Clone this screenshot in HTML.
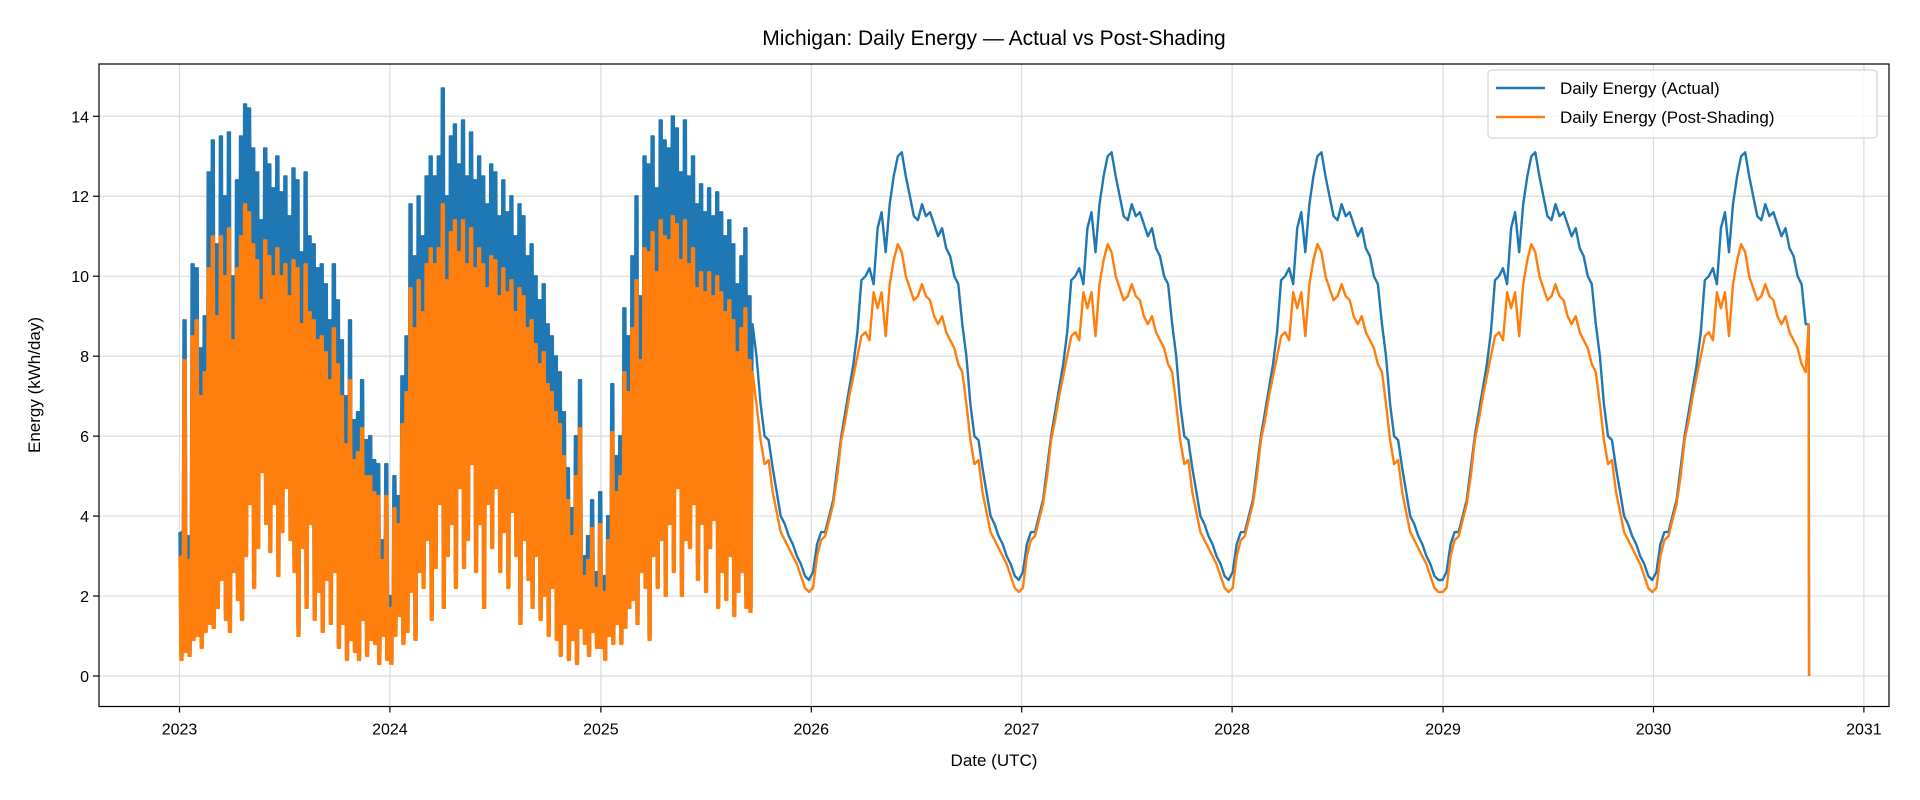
<!DOCTYPE html>
<html><head><meta charset="utf-8"><style>
html,body{margin:0;padding:0;background:#fff;}
svg{display:block;font-family:"Liberation Sans","DejaVu Sans",sans-serif;}
</style></head><body>
<svg id="chart" width="1920" height="800" viewBox="0 0 1920 800" xmlns="http://www.w3.org/2000/svg">
<rect x="0" y="0" width="1920" height="800" fill="#fff"/>
<text x="994" y="45" font-size="21" text-anchor="middle" fill="#000">Michigan: Daily Energy — Actual vs Post-Shading</text>
<g id="grid"></g>
<g id="series"></g>
<rect x="99" y="64" width="1790" height="642.5" fill="none" stroke="#000" stroke-width="1.2"/>
<g id="ticks"></g>
<text x="994" y="766" font-size="17" text-anchor="middle">Date (UTC)</text>
<text x="0" y="0" font-size="17" text-anchor="middle" transform="translate(40,385) rotate(-90)">Energy (kWh/day)</text>
<g>
<rect x="1488" y="70" width="389" height="68" rx="4" fill="#fff" fill-opacity="0.8" stroke="#ccc"/>
<line x1="1496" y1="88" x2="1545" y2="88" stroke="#1f77b4" stroke-width="2.6"/>
<text x="1560" y="94" font-size="17">Daily Energy (Actual)</text>
<line x1="1496" y1="117" x2="1545" y2="117" stroke="#ff7f0e" stroke-width="2.6"/>
<text x="1560" y="123" font-size="17">Daily Energy (Post-Shading)</text>
</g>
</svg>
<script>
const yTicks=[0,2,4,6,8,10,12,14];
const xTickYears=[2023,2024,2025,2026,2027,2028,2029,2030,2031];
// Noisy measured period (weekly highs / lows), 2023-01-01 .. 2025-09-23
const actualHi=[3.6,8.9,3.5,10.3,10.2,8.2,9.0,12.6,13.4,10.8,13.5,12.0,13.6,10.0,12.4,13.5,14.3,14.2,13.2,12.6,11.4,13.2,12.8,12.2,13.0,12.1,12.5,11.5,12.7,12.4,10.6,12.6,11.0,10.8,10.2,10.3,9.8,8.9,10.3,9.4,8.4,7.0,8.9,6.4,6.6,7.4,5.9,6.0,5.4,5.3,3.4,5.3,
2.0,5.0,4.5,7.5,8.5,11.8,10.5,12.0,11.0,12.5,13.0,12.5,13.0,14.7,12.0,13.5,13.8,12.8,13.9,12.5,13.6,12.4,13.0,12.5,11.8,12.8,12.6,11.5,12.4,11.6,12.0,11.0,11.8,11.5,10.5,10.8,10.0,9.4,9.8,8.8,8.5,8.0,7.6,6.6,5.2,4.2,6.0,7.4,3.0,3.5,4.4,2.6,
4.6,2.5,4.0,7.3,5.5,6.0,9.2,8.5,10.5,12.0,9.5,13.0,12.8,13.5,12.2,13.9,13.4,13.2,14.0,13.7,12.6,13.9,12.5,13.0,11.8,12.3,11.6,12.2,11.5,12.1,11.6,11.0,11.4,10.8,9.8,10.5,11.2,9.5];
const actualLo=[0.5,0.7,0.6,1.0,1.2,0.8,1.3,1.5,1.4,2.0,2.8,1.6,1.3,3.0,2.2,1.6,3.5,5.0,2.6,3.8,6.0,4.5,3.6,5.0,2.9,4.2,5.5,4.0,3.0,1.2,3.8,2.0,4.5,1.6,2.5,1.3,2.8,1.5,3.0,0.8,1.5,0.5,1.0,0.7,0.5,1.6,0.6,1.0,0.9,0.4,1.2,0.5,
0.4,1.2,1.8,0.9,1.3,2.5,1.0,3.0,2.6,4.0,1.6,3.2,5.0,2.0,3.5,4.5,2.6,5.5,3.2,4.0,6.2,3.0,4.5,2.0,5.0,3.8,5.5,3.0,4.2,2.6,4.8,3.5,1.5,4.0,2.8,2.0,3.5,1.6,2.4,1.2,2.6,1.0,0.6,1.5,0.5,1.0,0.4,1.4,0.9,0.6,1.3,0.8,
0.8,0.5,1.2,0.9,1.5,0.9,1.4,2.0,2.2,1.5,3.0,2.6,1.0,3.5,2.6,4.0,2.4,4.5,3.0,5.5,2.4,4.0,3.8,5.0,2.8,4.5,2.5,3.8,4.6,2.0,3.0,2.2,3.5,1.8,2.5,3.0,2.0,1.7];
const shadedHi=[3.0,7.9,2.9,8.5,8.9,7.0,7.6,10.2,11.0,9.0,11.0,10.0,11.2,8.4,10.2,11.0,11.8,11.6,10.8,10.4,9.4,10.9,10.5,10.0,10.7,10.0,10.3,9.5,10.4,10.2,8.8,10.3,9.1,8.9,8.4,8.5,8.1,7.4,8.7,7.8,7.0,5.8,7.4,5.4,5.6,6.2,5.0,5.0,4.6,4.5,2.9,4.5,
1.7,4.2,3.8,6.3,7.1,9.7,8.7,9.9,9.1,10.3,10.7,10.3,10.7,11.8,9.9,11.1,11.4,10.6,11.4,10.3,11.2,10.2,10.7,10.3,9.7,10.5,10.4,9.5,10.2,9.6,9.9,9.1,9.7,9.5,8.7,8.9,8.3,7.8,8.1,7.3,7.1,6.6,6.3,5.5,4.4,3.5,5.0,6.2,2.5,2.9,3.7,2.2,
3.8,2.1,3.4,6.1,4.6,5.0,7.6,7.1,8.7,9.9,7.9,10.7,10.6,11.1,10.1,11.4,11.0,10.9,11.5,11.3,10.4,11.4,10.3,10.7,9.7,10.1,9.6,10.1,9.5,10.0,9.6,9.1,9.4,8.9,8.1,8.7,9.2,7.9];
const shadedLo=[0.4,0.6,0.5,0.9,1.0,0.7,1.1,1.3,1.2,1.7,2.4,1.4,1.1,2.6,1.9,1.4,3.0,4.3,2.2,3.2,5.1,3.8,3.1,4.3,2.5,3.6,4.7,3.4,2.6,1.0,3.2,1.7,3.8,1.4,2.1,1.1,2.4,1.3,2.6,0.7,1.3,0.4,0.9,0.6,0.4,1.4,0.5,0.9,0.8,0.3,1.0,0.4,
0.3,1.0,1.5,0.8,1.1,2.1,0.9,2.6,2.2,3.4,1.4,2.7,4.3,1.7,3.0,3.8,2.2,4.7,2.7,3.4,5.3,2.6,3.8,1.7,4.3,3.2,4.7,2.6,3.6,2.2,4.1,3.0,1.3,3.4,2.4,1.7,3.0,1.4,2.0,1.0,2.2,0.9,0.5,1.3,0.4,0.9,0.3,1.2,0.8,0.5,1.1,0.7,
0.7,0.4,1.0,0.8,1.3,0.8,1.2,1.7,1.9,1.3,2.6,2.2,0.9,3.0,2.2,3.4,2.0,3.8,2.6,4.7,2.0,3.4,3.2,4.3,2.4,3.8,2.1,3.2,3.9,1.7,2.6,1.9,3.0,1.5,2.1,2.6,1.7,1.6];
// Typical-year weekly profile used for the modelled period
const profileActual=[2.6,3.3,3.6,3.6,4.0,4.4,5.2,6.0,6.6,7.2,7.8,8.6,9.9,10.0,10.2,9.8,11.2,11.6,10.6,11.8,12.5,13.0,13.1,12.5,12.0,11.5,11.4,11.8,11.5,11.6,11.3,11.0,11.2,10.7,10.5,10.0,9.8,8.8,8.0,6.8,6.0,5.9,5.2,4.6,4.0,3.8,3.5,3.3,3.0,2.8,2.5,2.4];
const profileShaded=[2.2,3.0,3.4,3.5,3.9,4.3,5.0,5.9,6.4,7.0,7.5,8.0,8.5,8.6,8.4,9.6,9.2,9.6,8.5,9.8,10.4,10.8,10.6,10.0,9.7,9.4,9.5,9.8,9.5,9.4,9.0,8.8,9.0,8.6,8.4,8.2,7.8,7.6,6.8,5.9,5.3,5.4,4.6,4.1,3.6,3.4,3.2,3.0,2.8,2.5,2.2,2.1];
const finalValue=[8.8,0.0];

const NS='http://www.w3.org/2000/svg';
const L=99,R=1889,T=64,B=706.5;
function xScale(dayIdx){return 179.5+(dayIdx/365.25)*210.55;}
function yScale(v){return 676-v*39.98;}
function mk(tag,attrs,parent){const e=document.createElementNS(NS,tag);for(const k in attrs)e.setAttribute(k,attrs[k]);parent.appendChild(e);return e;}
const grid=document.getElementById('grid'),ticks=document.getElementById('ticks'),ser=document.getElementById('series');
yTicks.forEach(v=>{
  const y=yScale(v);
  const g=mk('line',{x1:L,x2:R,y1:y,y2:y,stroke:'#dcdcdc','stroke-width':1.2},grid);
  
  
  const t=mk('line',{x1:L-6,x2:L,y1:y,y2:y,stroke:'#000','stroke-width':1.2},ticks);
  
  
  const tx=mk('text',{x:L-10,y:y+6,'font-size':16,'text-anchor':'end'},ticks);
  tx.textContent=v;
  
  
});
function dayOfYear(yr){const d=Date.UTC(yr,0,1)-Date.UTC(2023,0,1);return d/86400000;}
xTickYears.forEach(yr=>{
  const x=xScale(dayOfYear(yr));
  const g=mk('line',{x1:x,x2:x,y1:T,y2:B,stroke:'#dcdcdc','stroke-width':1.2},grid);
  
  
  const t=mk('line',{x1:x,x2:x,y1:B,y2:B+6,stroke:'#000','stroke-width':1.2},ticks);
  
  
  const tx=mk('text',{x:x,y:B+28,'font-size':16,'text-anchor':'middle'},ticks);
  tx.textContent=yr;
  
  
});
function buildPts(hi,lo,prof,fin){
  const pts=[];
  for(let i=0;i<hi.length;i++){
    pts.push([xScale(i*7),yScale(hi[i])]);
    pts.push([xScale(i*7+1.75),yScale(lo[i])]);
    pts.push([xScale(i*7+3.5),yScale(hi[i])]);
    pts.push([xScale(i*7+5.25),yScale(lo[i])]);
  }
  const startDay=hi.length*7;
  const endDay=dayOfYear(2030)+268;
  for(let d=startDay;d<=endDay;d+=7){
    const date=new Date(Date.UTC(2023,0,1)+d*86400000);
    const yr=date.getUTCFullYear();
    let w=Math.floor((d-dayOfYear(yr))/7); if(w>51)w=51;
    pts.push([xScale(d),yScale(prof[w])]);
  }
  pts.push([xScale(endDay+1),yScale(fin[0])]);
  pts.push([xScale(endDay+2),yScale(fin[1])]);
  return pts.map(p=>p[0].toFixed(1)+','+p[1].toFixed(1)).join(' ');
}
const pa=mk('polyline',{points:buildPts(actualHi,actualLo,profileActual,finalValue),fill:'none',stroke:'#1f77b4','stroke-width':2.4,'stroke-linejoin':'round'},ser);


const ps=mk('polyline',{points:buildPts(shadedHi,shadedLo,profileShaded,finalValue),fill:'none',stroke:'#ff7f0e','stroke-width':2.4,'stroke-linejoin':'round'},ser);


</script>
</body></html>
